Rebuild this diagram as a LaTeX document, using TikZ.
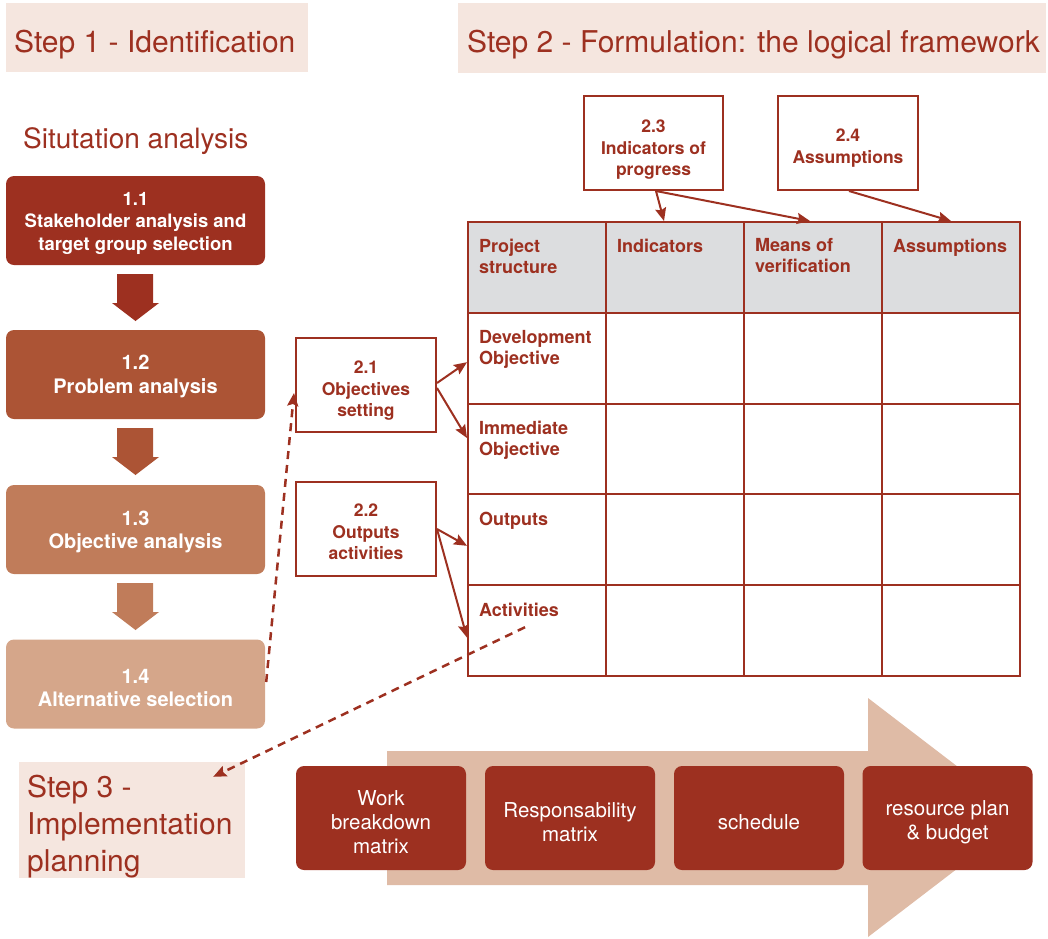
\documentclass[tikz,border=0pt]{standalone}
\usepackage{fontspec}
\setmainfont{TeX Gyre Heros}
\usetikzlibrary{arrows.meta,calc}
\definecolor{rust}{HTML}{9D3020}
\definecolor{ctwo}{HTML}{AC5435}
\definecolor{cthree}{HTML}{C07C5A}
\definecolor{cfour}{HTML}{D5A68A}
\definecolor{banner}{HTML}{F5E6DF}
\definecolor{bigarrow}{HTML}{DFBBA6}
\definecolor{hdrgray}{HTML}{DCDDDF}
\tikzset{
  phase/.style={rounded corners=8pt, minimum width=259pt, minimum height=89pt, inner sep=0pt},
  phasetext/.style={inner sep=0pt, text=white, align=center, font=\bfseries\fontsize{18.5}{22.5}\selectfont},
  phasebig/.style={phasetext, font=\bfseries\fontsize{20}{23.5}\selectfont},
  substep/.style={draw=rust, line width=2pt, fill=white, minimum width=140pt, minimum height=94pt, inner sep=0pt},
  subtext/.style={inner sep=0pt, text=rust, align=center, font=\bfseries\fontsize{17.5}{21.5}\selectfont},
  cell/.style={draw=rust, line width=2pt, minimum width=138pt, minimum height=90.8pt, inner sep=0pt},
  celltext/.style={anchor=north west, inner sep=0pt, text=rust, align=left,
    font=\bfseries\fontsize{18}{21}\selectfont},
  plan/.style={rounded corners=8pt, fill=rust, minimum width=170pt, minimum height=104pt, inner sep=0pt},
  plantext/.style={inner sep=0pt, text=white, align=center, font=\fontsize{20.5}{24}\selectfont},
  bannerbox/.style={fill=banner, inner sep=0pt},
  titletext/.style={text=rust, inner sep=0pt, font=\fontsize{30}{37}\selectfont},
  link/.style={draw=rust, line width=2pt, -{Stealth[length=13pt,width=11pt,inset=2pt]}},
  dlink/.style={link, dash pattern=on 8pt off 6pt, line width=2.5pt},
}
\begin{document}
\begin{tikzpicture}[x=1pt,y=-1pt]
\useasboundingbox (0,0) rectangle (1048,938);

% banners
\node[bannerbox, minimum width=302pt, minimum height=69pt] (b1) at (157,37.5) {};
\node[titletext, anchor=base west] (t1) at (14,52) {Step 1 - Identification};
\node[bannerbox, minimum width=588pt, minimum height=70pt] (b2) at (752,38) {};
\node[titletext, anchor=base west] (t2) at (467,52) {Step 2 - Formulation: the logical framework};
\node[titletext, anchor=base west, font=\fontsize{28}{34}\selectfont] (sa) at (23,148) {Situtation analysis};

% phase boxes
\node[phase, fill=rust] (p11) at (135.5,220.5) {};
\node[phase, fill=ctwo] (p12) at (135.5,374.5) {};
\node[phase, fill=cthree] (p13) at (135.5,529.5) {};
\node[phase, fill=cfour] (p14) at (135.5,684) {};
\node[phasetext] (p11t) at ($(p11)+(0,2.5)$) {1.1\\Stakeholder analysis and\\target group selection};
\node[phasebig] (p12t) at ($(p12)+(0,2)$) {1.2\\Problem analysis};
\node[phasebig] (p13t) at ($(p13)+(0,2.5)$) {1.3\\Objective analysis};
\node[phasebig] (p14t) at ($(p14)+(0,4)$) {1.4\\Alternative selection};

% block arrows
\foreach \yy/\cc in {274/rust, 428/ctwo, 583/cthree}{
  \fill[\cc] (117,\yy) -- (153,\yy) -- (153,\yy+29) -- (159,\yy+29) -- (135.5,\yy+47)
     -- (112,\yy+29) -- (117,\yy+29) -- cycle;
}

% big arrow
\fill[bigarrow] (387,751) -- (868,751) -- (868,698) -- (1024,817.5) -- (868,937) -- (868,885) -- (387,885) -- cycle;

% step 3
\node[bannerbox, minimum width=226pt, minimum height=116pt] (s3) at (132,820) {};
\node[titletext, anchor=north west, align=left] (s3t) at (27,775) {Step 3 -\\Implementation\\planning};

% plan boxes
\node[plan] (w1) at (381,818) {};
\node[plan] (w2) at (570,818) {};
\node[plan] (w3) at (759,818) {};
\node[plan] (w4) at (947.5,818) {};
\node[plantext] (w1t) at ($(w1)+(0,4)$) {Work\\breakdown\\matrix};
\node[plantext] (w2t) at ($(w2)+(0,4)$) {Responsability\\matrix};
\node[plantext] (w3t) at ($(w3)+(0,4)$) {schedule};
\node[plantext] (w4t) at ($(w4)+(0,4)$) {resource plan\\\& budget};

% table
\foreach \r/\f [count=\i from 0] in {h/hdrgray,dev/white,imm/white,out/white,act/white}{
  \foreach \c [count=\j from 0] in {a,b,c,d}{
    \node[cell, fill=\f] (\r\c) at (537+138*\j, 267.4+90.8*\i) {};
  }
}

\node[celltext] (tha) at ($(ha.north west)+(12,17.5)$) {Project\\structure};
\node[celltext] (thb) at ($(hb.north west)+(12,17.5)$) {Indicators};
\node[celltext] (thc) at ($(hc.north west)+(12,17.5)$) {Means of\\verification};
\node[celltext] (thd) at ($(hd.north west)+(12,17.5)$) {Assumptions};
\node[celltext] (tdev) at ($(deva.north west)+(12,18.5)$) {Development\\Objective};
\node[celltext] (timm) at ($(imma.north west)+(12,18.5)$) {Immediate\\Objective};
\node[celltext] (tout) at ($(outa.north west)+(12,18.5)$) {Outputs};
\node[celltext] (tact) at ($(acta.north west)+(12,18.5)$) {Activities};

% substep boxes
\node[substep] (s21) at (366,385) {};
\node[substep] (s22) at (366,529) {};
\node[substep, minimum width=139pt] (s23) at (653.5,143) {};
\node[substep] (s24) at (848,143) {};
\node[subtext] (s21t) at ($(s21)+(0,6)$) {2.1\\Objectives\\setting};
\node[subtext] (s22t) at ($(s22)+(0,3)$) {2.2\\Outputs\\activities};
\node[subtext] (s23t) at ($(s23)+(0,7)$) {2.3\\Indicators of\\progress};
\node[subtext] (s24t) at ($(s24)+(0,5)$) {2.4\\Assumptions};

% connectors
\draw[link] ($(s21.east)+(0,-2)$) -- ($(deva.west)+(0,4)$);
\draw[link] ($(s21.east)+(0,3)$) -- ($(imma.west)+(0,-11)$);
\draw[link] (s22.east) -- ($(outa.west)+(0,6)$);
\draw[link] (s22.east) -- ($(acta.west)+(0,7)$);
\draw[link] ($(s23.south)+(2.5,0)$) -- ($(hb.north)+(-11,0)$);
\draw[link] ($(s23.south)+(2.5,0)$) -- ($(hc.north)+(-3,0)$);
\draw[link] ($(s24.south)+(1,0)$) -- (hd.north);

\coordinate (dstart) at ($(acta.north west)+(58,43)$);
\coordinate (s3tip) at ($(s3.north east)+(-32,15)$);
\draw[dlink] ($(p14.east)+(1,-2)$) -- ($(s21.west)+(-1,8)$);
\draw[dlink] (dstart) -- (s3tip);
\end{tikzpicture}
\end{document}
